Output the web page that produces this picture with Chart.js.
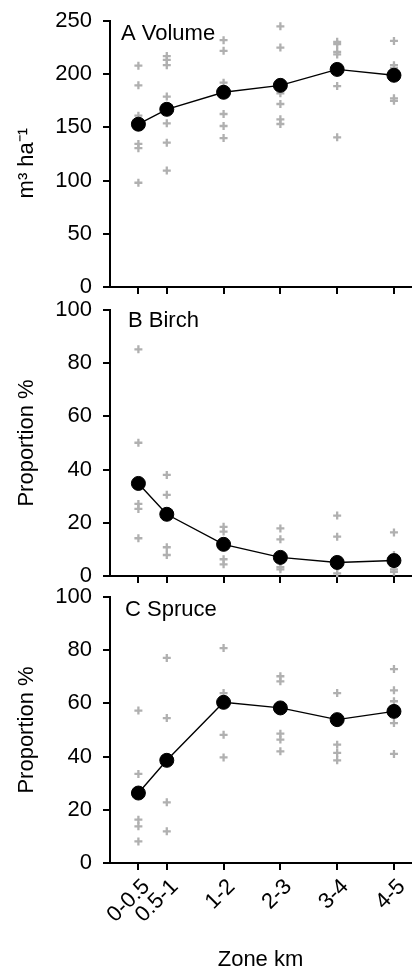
<!DOCTYPE html>
<html>
<head>
<meta charset="utf-8">
<script src="https://cdn.jsdelivr.net/npm/chart.js@4.4.1/dist/chart.umd.min.js"></script>
<style>
  html, body { margin: 0; padding: 0; background: #fff; overflow: hidden; }
  canvas { position: absolute; left: 0; }
</style>
</head>
<body>
<canvas id="cA" width="419" height="300" style="top:0px"></canvas>
<canvas id="cB" width="419" height="300" style="top:290px"></canvas>
<canvas id="cC" width="419" height="389" style="top:580px"></canvas>
<script>
// ---- data ----
const zones = ['0-0.5', '0.5-1', '1-2', '2-3', '3-4', '4-5'];
const zonePos = [0.5, 1, 2, 3, 4, 5];

const volumeMean = [153, 167, 183, 189.5, 204.5, 199];
const volumeObs = [
  [208, 189.5, 161, 134.5, 130.5, 98],
  [217, 213.5, 208.5, 179, 153.8, 135.6, 109.4],
  [232, 222, 192, 162.6, 151.3, 140],
  [245, 225, 182, 172, 157.6, 153.2],
  [230.4, 228.2, 221, 218.6, 188.8, 140.7],
  [231.3, 208.5, 206, 177.3, 175]
];

const birchMean = [34.8, 23.2, 11.9, 7.0, 5.1, 5.8];
const birchObs = [
  [85.2, 50.1, 27.1, 25.2, 14.2],
  [38, 30.5, 10.8, 7.9],
  [18.5, 16.7, 6.3, 4.4],
  [17.9, 13.8, 3.3, 2.5],
  [22.7, 14.8, 3.3, 1.0],
  [16.4, 7.9, 2.5, 1.6]
];

const spruceMean = [26.3, 38.6, 60.4, 58.3, 53.9, 57.0];
const spruceObs = [
  [57.3, 33.5, 16.3, 13.8, 8.1],
  [77.1, 54.5, 22.8, 11.9],
  [80.8, 63.9, 48.2, 39.7],
  [70.2, 68.3, 48.6, 46.4, 42.0],
  [63.9, 44.5, 41.4, 38.6],
  [72.9, 64.9, 60.8, 52.6, 41.0]
];

const volumeTicks = [0, 50, 100, 150, 200, 250];
const propTicks = [0, 20, 40, 60, 80, 100];

// ---- drawing ----
const FONT_FAMILY = '"Liberation Sans", Arial, Helvetica, sans-serif';
const FS = 22;
const GREY = '#b0b0b0';

const panelLabel = {
  id: 'panelLabel',
  afterDraw(chart, args, o) {
    const ctx = chart.ctx;
    ctx.save();
    ctx.font = FS + 'px ' + FONT_FAMILY;
    ctx.fillStyle = '#000';
    ctx.textBaseline = 'middle';
    ctx.textAlign = 'left';
    ctx.fillText(o.text, chart.chartArea.left + o.dx, chart.chartArea.top + o.dy);
    ctx.restore();
  }
};

function makePanel(id, cfg) {
  const meanPts = cfg.mean.map((v, i) => ({ x: zonePos[i], y: v }));
  const obsPts = [];
  cfg.obs.forEach((arr, i) => arr.forEach(v => obsPts.push({ x: zonePos[i], y: v })));
  const font = { family: FONT_FAMILY, size: FS };
  new Chart(document.getElementById(id), {
    type: 'scatter',
    data: {
      datasets: [
        {
          type: 'line',
          data: meanPts,
          borderColor: '#000',
          borderWidth: 1.4,
          pointRadius: 7,
          pointBorderWidth: 1,
          pointBackgroundColor: '#000',
          pointBorderColor: '#000',
          fill: false,
          tension: 0,
          clip: false
        },
        {
          data: obsPts,
          pointStyle: 'cross',
          pointRadius: 4,
          pointBorderWidth: 2.3,
          borderColor: GREY,
          backgroundColor: GREY,
          clip: false
        }
      ]
    },
    options: {
      responsive: false,
      animation: false,
      events: [],
      layout: { padding: { top: cfg.padTop, left: 0, right: 0, bottom: 0 } },
      plugins: {
        legend: { display: false },
        tooltip: { enabled: false },
        panelLabel: { text: cfg.label, dx: cfg.labelDx, dy: cfg.labelDy }
      },
      scales: {
        x: {
          type: 'linear',
          min: 0,
          max: 5.3,
          afterBuildTicks: s => { s.ticks = zonePos.map(v => ({ value: v })); },
          ticks: {
            display: cfg.showX,
            autoSkip: false,
            minRotation: 45,
            maxRotation: 45,
            padding: 4,
            labelOffset: 8,
            font: font,
            color: '#000',
            callback: (v, i) => zones[i]
          },
          grid: { drawOnChartArea: false, drawTicks: true, tickLength: 7, color: '#000', lineWidth: 2 },
          border: { display: true, color: '#000', width: 2 },
          title: { display: cfg.showX, text: 'Zone km', font: font, color: '#000', padding: { top: 0, bottom: -4 } },
          afterFit: s => { s.height = cfg.xHeight; s.paddingLeft = 0; s.paddingRight = 0; }
        },
        y: {
          min: cfg.ticks[0],
          max: cfg.ticks[cfg.ticks.length - 1],
          afterBuildTicks: s => { s.ticks = cfg.ticks.map(v => ({ value: v })); },
          ticks: { font: font, color: '#000', padding: 11 },
          grid: { drawOnChartArea: false, drawTicks: true, tickLength: 7, color: '#000', lineWidth: 2 },
          border: { display: true, color: '#000', width: 2 },
          title: { display: true, text: cfg.yTitle, font: font, color: '#000', padding: { top: 14, bottom: 0 } },
          afterFit: s => { s.width = 110; s.paddingTop = 0; s.paddingBottom = 0; }
        }
      }
    },
    plugins: [panelLabel]
  });
}

makePanel('cA', { mean: volumeMean, obs: volumeObs, ticks: volumeTicks, yTitle: 'm³ ha⁻¹   ',
  label: 'A Volume', labelDx: 11, labelDy: 13, padTop: 21, xHeight: 13, showX: false });
makePanel('cB', { mean: birchMean, obs: birchObs, ticks: propTicks, yTitle: 'Proportion %',
  label: 'B Birch', labelDx: 18, labelDy: 11, padTop: 20, xHeight: 14, showX: false });
makePanel('cC', { mean: spruceMean, obs: spruceObs, ticks: propTicks, yTitle: 'Proportion %',
  label: 'C Spruce', labelDx: 15, labelDy: 13, padTop: 17, xHeight: 106, showX: true });
</script>
</body>
</html>
